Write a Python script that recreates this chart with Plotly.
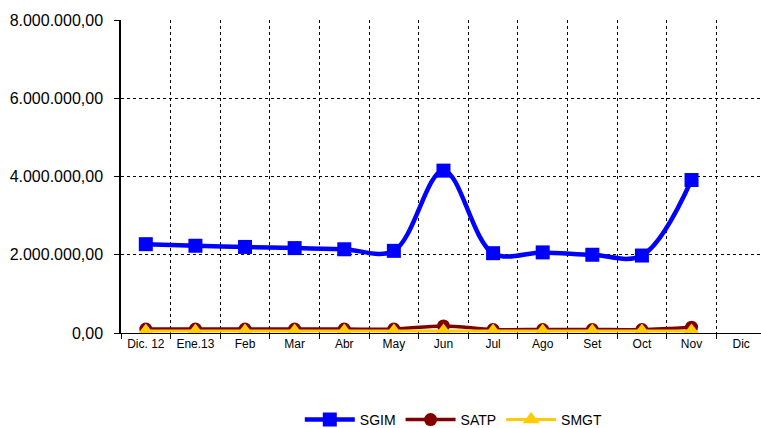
import plotly.graph_objects as go

meses = ["Dic. 12", "Ene.13", "Feb", "Mar", "Abr", "May", "Jun", "Jul", "Ago", "Set", "Oct", "Nov", "Dic"]

sgim = [2270000, 2230000, 2200000, 2170000, 2140000, 2100000, 4150000, 2040000, 2060000, 2000000, 1980000, 3910000]
satp = [100000, 100000, 100000, 100000, 100000, 100000, 180000, 90000, 90000, 90000, 90000, 150000]
smgt = [50000, 50000, 50000, 50000, 50000, 50000, 50000, 50000, 50000, 50000, 50000, 50000]

fig = go.Figure()

fig.add_trace(go.Scatter(
    x=meses[:len(sgim)], y=sgim, name="SGIM",
    mode="lines+markers",
    line=dict(color="#0000FF", width=4.5, shape="spline", smoothing=1),
    marker=dict(symbol="square", size=14, color="#0000FF")
))
fig.add_trace(go.Scatter(
    x=meses[:len(satp)], y=satp, name="SATP",
    mode="lines+markers",
    line=dict(color="#800000", width=3.5, shape="spline", smoothing=1),
    marker=dict(symbol="circle", size=13, color="#800000")
))
fig.add_trace(go.Scatter(
    x=meses[:len(smgt)], y=smgt, name="SMGT",
    mode="lines+markers",
    line=dict(color="#FFCC00", width=3, shape="spline", smoothing=1),
    marker=dict(symbol="triangle-up", size=15, color="#FFCC00")
))

fig.update_layout(
    width=761, height=428,
    margin=dict(l=121, r=0, t=20, b=95, autoexpand=False),
    paper_bgcolor="white", plot_bgcolor="white",
    font=dict(family="Liberation Sans, Arial", color="black"),
    separators=",.",
    showlegend=True,
    legend=dict(orientation="h", x=0.52, xanchor="center", y=-0.278, yanchor="middle",
                font=dict(size=14), itemwidth=50),
)

fig.update_xaxes(
    type="category", categoryorder="array", categoryarray=meses,
    range=[-0.5, 12.4], automargin=False,
    tickson="boundaries", ticks="outside", ticklen=5, tickcolor="black",
    showgrid=True, gridcolor="black", griddash="dot", gridwidth=1,
    showline=True, linecolor="black", linewidth=1,
    tickfont=dict(size=12),
)
fig.update_yaxes(
    range=[0, 8000000], tickvals=[0, 2000000, 4000000, 6000000, 8000000],
    tickformat=",.2f", automargin=False,
    ticks="outside", ticklen=5, tickcolor="black", ticklabelstandoff=8,
    showgrid=True, gridcolor="black", griddash="dot", gridwidth=1,
    showline=True, linecolor="black", linewidth=1.5,
    zeroline=False,
    tickfont=dict(size=16),
)

# quitar el margen por defecto del body para que el grafico quede en (0,0)
fig.write_html("out.html", config={"displayModeBar": False},
               post_script="document.body.style.margin='0px';")
